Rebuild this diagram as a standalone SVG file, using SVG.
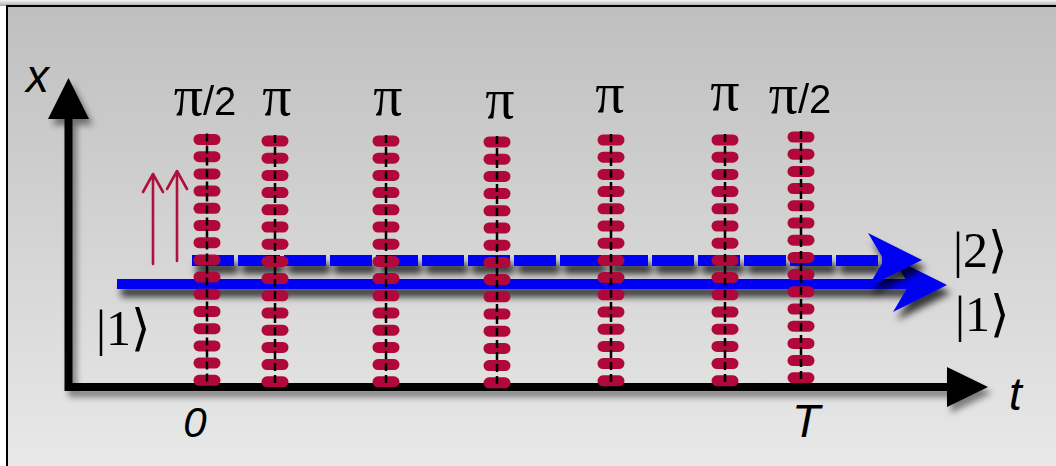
<svg xmlns="http://www.w3.org/2000/svg" xmlns:xlink="http://www.w3.org/1999/xlink" width="1056" height="466" viewBox="0 0 1056 466">
<style>
.lbl{font-family:"Liberation Sans",Arial,sans-serif;fill:#000}
.pi{font-family:"Liberation Serif","DejaVu Serif",serif}
.frac{font-family:"Liberation Sans",Arial,sans-serif}
.ket{font-family:"Liberation Serif","DejaVu Serif",serif;font-size:50px;fill:#000}
.ax{font-family:"Liberation Sans",Arial,sans-serif;font-style:italic;fill:#000}
.pill{fill:#b0083a}
.vdash{stroke:#000;stroke-width:2.5;stroke-dasharray:8 4;fill:none}
.blue{fill:#0000f2}
.redarrow{stroke:#b0103c;stroke-width:2.6;fill:none;stroke-linecap:round;stroke-linejoin:round}
</style>
<defs>
<linearGradient id="bg" x1="0" y1="0" x2="0" y2="1">
<stop offset="0" stop-color="#bfbfbf"/>
<stop offset="1" stop-color="#e9e9e9"/>
</linearGradient>
<linearGradient id="topsh" x1="0" y1="0" x2="0" y2="1">
<stop offset="0" stop-color="#f4f4f4"/>
<stop offset="1" stop-color="#a8a8a8"/>
</linearGradient>
<filter id="sh" x="-10%" y="-50%" width="120%" height="250%">
<feDropShadow dx="4" dy="8" stdDeviation="3.5" flood-color="#000" flood-opacity="0.75"/>
</filter>
<filter id="axsh" x="-10%" y="-10%" width="120%" height="130%">
<feDropShadow dx="4" dy="6" stdDeviation="3" flood-color="#000" flood-opacity="0.45"/>
</filter>
<g id="pillcol">
<rect class="pill" x="-13.5" y="-5.5" width="27" height="11" rx="5.5"/>
<rect class="pill" x="-13.5" y="11.7" width="27" height="11" rx="5.5"/>
<rect class="pill" x="-13.5" y="28.9" width="27" height="11" rx="5.5"/>
<rect class="pill" x="-13.5" y="46.1" width="27" height="11" rx="5.5"/>
<rect class="pill" x="-13.5" y="63.3" width="27" height="11" rx="5.5"/>
<rect class="pill" x="-13.5" y="80.5" width="27" height="11" rx="5.5"/>
<rect class="pill" x="-13.5" y="97.7" width="27" height="11" rx="5.5"/>
<rect class="pill" x="-13.5" y="114.9" width="27" height="11" rx="5.5"/>
<rect class="pill" x="-13.5" y="132.1" width="27" height="11" rx="5.5"/>
<rect class="pill" x="-13.5" y="149.3" width="27" height="11" rx="5.5"/>
<rect class="pill" x="-13.5" y="166.5" width="27" height="11" rx="5.5"/>
<rect class="pill" x="-13.5" y="183.7" width="27" height="11" rx="5.5"/>
<rect class="pill" x="-13.5" y="200.9" width="27" height="11" rx="5.5"/>
<rect class="pill" x="-13.5" y="218.1" width="27" height="11" rx="5.5"/>
<rect class="pill" x="-13.5" y="235.3" width="27" height="11" rx="5.5"/>
<line class="vdash" x1="0" y1="-6" x2="0" y2="246"/>
</g>
<path id="bhead" d="M0,0 L-54,-27 L-38,0 L-54,27 Z"/>
</defs>

<!-- background & frame -->
<rect x="0" y="0" width="1056" height="466" fill="#ffffff"/>
<rect x="0" y="0" width="1056" height="6" fill="url(#topsh)"/>
<rect x="7" y="6" width="1060" height="470" fill="url(#bg)" stroke="#000" stroke-width="2"/>

<!-- axes -->
<g id="axes" filter="url(#axsh)">
<path d="M68.5,116 L68.5,387 L950,387" fill="none" stroke="#000" stroke-width="8" stroke-linejoin="miter"/>
<path d="M68.5,78 L89,119 L48,119 Z" fill="#000"/>
<path d="M988,387 L947,367 L947,407 Z" fill="#000"/>
</g>
<text class="ax" x="26" y="92" font-size="46">x</text>
<text class="ax" x="1009" y="410" font-size="46">t</text>
<text class="ax" x="195" y="437" font-size="42" text-anchor="middle">0</text>
<text class="ax" x="806" y="437" font-size="46" text-anchor="middle">T</text>

<!-- connectors: state trajectories -->
<g id="connectors">
<g id="path1" filter="url(#sh)">
<rect class="blue" x="117" y="279" width="795" height="10"/>
<use href="#bhead" x="947" y="285" class="blue"/>
</g>
<g id="path2" filter="url(#sh)">
<line x1="192" y1="260.5" x2="885" y2="260.5" stroke="#0000f2" stroke-width="11" stroke-dasharray="42 4"/>
<use href="#bhead" x="922" y="260" class="blue"/>
</g>
<g id="spin-arrows">
<path class="redarrow" d="M153,264 L153,174 M143,192 L153,174 L163,192"/>
<path class="redarrow" d="M177,261 L177,171 M167,189 L177,171 L187,189"/>
</g>
</g>

<!-- pulse columns -->
<g id="pulse1"><use href="#pillcol" x="207" y="139.5"/><text class="lbl" x="205" y="115" text-anchor="middle"><tspan class="pi" font-size="58">π</tspan><tspan class="frac" font-size="40">/2</tspan></text></g>
<g id="pulse2"><use href="#pillcol" x="275" y="141"/><text class="lbl pi" x="277" y="115" font-size="58" text-anchor="middle">π</text></g>
<g id="pulse3"><use href="#pillcol" x="386" y="141"/><text class="lbl pi" x="388" y="115" font-size="58" text-anchor="middle">π</text></g>
<g id="pulse4"><use href="#pillcol" x="497" y="142"/><text class="lbl pi" x="500" y="118" font-size="58" text-anchor="middle">π</text></g>
<g id="pulse5"><use href="#pillcol" x="611" y="140"/><text class="lbl pi" x="610" y="112" font-size="58" text-anchor="middle">π</text></g>
<g id="pulse6"><use href="#pillcol" x="725" y="140"/><text class="lbl pi" x="725" y="110" font-size="58" text-anchor="middle">π</text></g>
<g id="pulse7"><use href="#pillcol" x="801" y="137"/><text class="lbl" x="800" y="113" text-anchor="middle"><tspan class="pi" font-size="58">π</tspan><tspan class="frac" font-size="40">/2</tspan></text></g>

<!-- state labels -->
<g id="ket2"><text class="ket" x="953" y="267">|2⟩</text></g>
<g id="ket1r"><text class="ket" x="955" y="331">|1⟩</text></g>
<g id="ket1l"><text class="ket" x="96" y="345">|1⟩</text></g>
</svg>
